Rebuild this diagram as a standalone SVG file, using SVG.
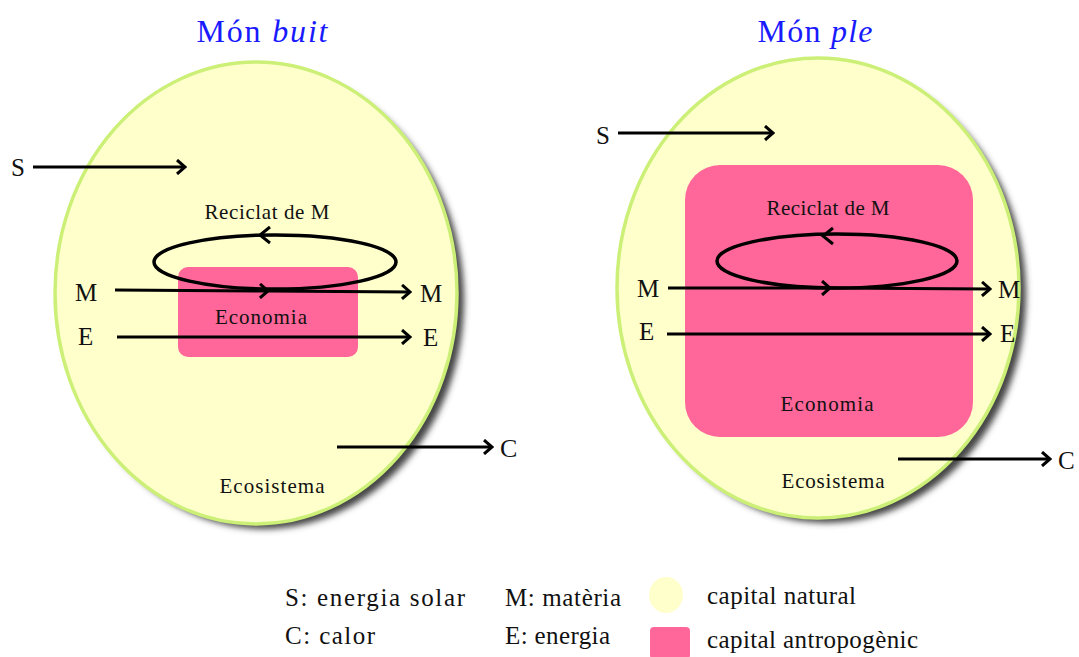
<svg xmlns="http://www.w3.org/2000/svg" width="1079" height="657" viewBox="0 0 1079 657">
<defs>
<filter id="sh" x="-20%" y="-20%" width="140%" height="140%"><feGaussianBlur stdDeviation="3"/></filter>
<marker id="ah" viewBox="0 0 12 16" refX="10" refY="8" markerWidth="12" markerHeight="16" markerUnits="userSpaceOnUse" orient="auto"><path d="M2,1 L10,8 L2,15" fill="none" stroke="#000" stroke-width="3"/></marker>
</defs>
<style>
.t{font-family:"Liberation Serif","Times New Roman",serif;fill:#111}
.ttl{font-family:"Liberation Serif","Times New Roman",serif;fill:#1a1aff;font-size:32px}
.eco{fill:#ffffcc;stroke:#ccf077;stroke-width:3.5}
.ec{fill:#ff6699}
.ar{stroke:#000;stroke-width:3;fill:none;marker-end:url(#ah)}
.lp{stroke:#000;stroke-width:3.5;fill:none}
.lb{font-size:21px}
.lg{font-size:25px}
.ltr{font-size:25px}
</style>
<rect width="1079" height="657" fill="#fff"/>

<g id="left-world">
<text class="ttl" x="262" y="42" text-anchor="middle" textLength="131">Món <tspan font-style="italic">buit</tspan></text>
<ellipse cx="264" cy="300" rx="200" ry="229" fill="#444" filter="url(#sh)"/>
<ellipse class="eco" cx="256" cy="293" rx="201" ry="231"/>
<rect class="ec" x="178" y="267" width="180" height="90" rx="10"/>
<text class="t lb" x="267" y="219" text-anchor="middle" textLength="125">Reciclat de M</text>
<text class="t lb" x="261" y="324" text-anchor="middle" textLength="92">Economia</text>
<text class="t lb" x="272" y="493" text-anchor="middle" textLength="105">Ecosistema</text>
</g>

<g id="right-world">
<text class="ttl" x="815" y="42" text-anchor="middle" textLength="115">Món <tspan font-style="italic">ple</tspan></text>
<ellipse cx="826" cy="295" rx="200" ry="228" fill="#444" filter="url(#sh)"/>
<ellipse class="eco" cx="818" cy="288" rx="201" ry="230"/>
<rect class="ec" x="685" y="165" width="288" height="272" rx="35"/>
<text class="t lb" x="828" y="215" text-anchor="middle" textLength="123">Reciclat de M</text>
<text class="t lb" x="827" y="411" text-anchor="middle" textLength="93">Economia</text>
<text class="t lb" x="833" y="488" text-anchor="middle" textLength="103">Ecosistema</text>
</g>

<g id="connectors">
<line class="ar" x1="33" y1="167" x2="185" y2="167"/>
<ellipse class="lp" cx="275" cy="262" rx="121" ry="27"/>
<path d="M270,227 L260,235 L270,243" fill="none" stroke="#000" stroke-width="3"/>
<line class="ar" x1="115" y1="290" x2="268" y2="291"/>
<line class="ar" x1="268" y1="291" x2="410" y2="292"/>
<line class="ar" x1="117" y1="337" x2="410" y2="337"/>
<line class="ar" x1="337" y1="447" x2="492" y2="447" stroke-width="5"/>

<line class="ar" x1="618" y1="133" x2="773" y2="133"/>
<ellipse class="lp" cx="837" cy="261" rx="120" ry="27"/>
<path d="M833,228 L823,236 L833,244" fill="none" stroke="#000" stroke-width="3"/>
<line class="ar" x1="668" y1="288" x2="830" y2="288"/>
<line class="ar" x1="830" y1="288" x2="990" y2="289"/>
<line class="ar" x1="667" y1="334" x2="990" y2="334"/>
<line class="ar" x1="898" y1="459" x2="1050" y2="459"/>
</g>

<g id="labels">
<text class="t" x="11" y="176" font-size="25">S</text>
<text class="t ltr" x="75" y="301">M</text>
<text class="t ltr" x="420" y="302">M</text>
<text class="t ltr" x="78" y="345">E</text>
<text class="t ltr" x="423" y="346">E</text>
<text class="t" x="500" y="457" font-size="26">C</text>
<text class="t" x="596" y="144" font-size="25">S</text>
<text class="t ltr" x="637" y="297">M</text>
<text class="t ltr" x="998" y="298">M</text>
<text class="t ltr" x="639" y="340">E</text>
<text class="t ltr" x="1000" y="342">E</text>
<text class="t" x="1058" y="469" font-size="25">C</text>
</g>

<g id="legend">
<text class="t lg" x="285" y="606" textLength="180">S: energia solar</text>
<text class="t lg" x="285" y="644" textLength="90">C: calor</text>
<text class="t lg" x="505" y="606" textLength="116">M: matèria</text>
<text class="t lg" x="505" y="644" textLength="105">E: energia</text>
<ellipse cx="666" cy="595" rx="17" ry="18" fill="#ffffcc"/>
<rect x="650" y="627" width="40" height="32" rx="4" fill="#ff6699"/>
<text class="t lg" x="707" y="604" textLength="149">capital natural</text>
<text class="t lg" x="707" y="648" textLength="211">capital antropogènic</text>
</g>
</svg>
